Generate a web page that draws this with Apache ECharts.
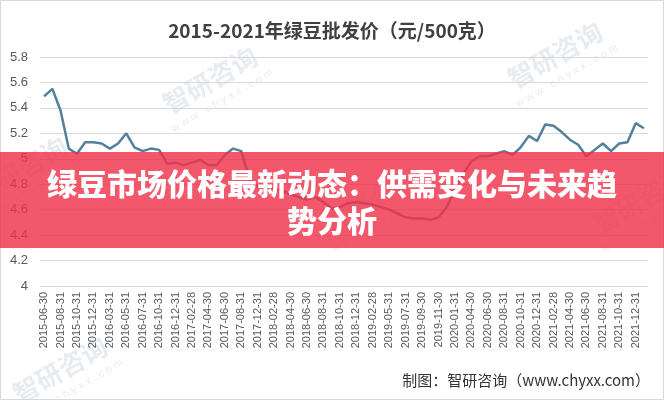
<!DOCTYPE html>
<html>
<head>
<meta charset="utf-8">
<script src="https://cdn.jsdelivr.net/npm/echarts@6/dist/echarts.min.js"></script>
<style>
html,body{margin:0;padding:0;background:#fff;}
#c{width:664px;height:400px;}
</style>
</head>
<body>
<div id="c"></div>
<script>
var titleText = '2015-2021年绿豆批发价（元/500克）';
var bannerLines = ['绿豆市场价格最新动态：供需变化与未来趋', '势分析'];
var sourceText = '制图：智研咨询（www.chyxx.com）';

var categories = [
 '2015-06-30','2015-07-31','2015-08-31','2015-09-30','2015-10-31','2015-11-30','2015-12-31','2016-01-31',
 '2016-03-31','2016-04-30','2016-05-31','2016-06-30','2016-07-31','2016-08-31','2016-10-31','2016-11-30',
 '2016-12-31','2017-01-31','2017-02-28','2017-03-31','2017-04-30','2017-05-31','2017-06-30','2017-07-31',
 '2017-08-31','2017-10-31','2017-12-31','2018-01-31','2018-02-28','2018-03-31','2018-04-30','2018-05-31',
 '2018-06-30','2018-07-31','2018-08-31','2018-09-30','2018-10-31','2018-11-30','2018-12-31','2019-01-31',
 '2019-02-28','2019-03-31','2019-05-31','2019-06-30','2019-07-31','2019-08-31','2019-09-30','2019-10-31',
 '2019-11-30','2019-12-31','2020-01-31','2020-03-31','2020-04-30','2020-05-31','2020-06-30','2020-07-31',
 '2020-08-31','2020-09-30','2020-10-31','2020-11-30','2020-12-31','2021-01-31','2021-02-28','2021-03-31',
 '2021-04-30','2021-05-31','2021-06-30','2021-07-31','2021-08-31','2021-09-30','2021-10-31','2021-11-30',
 '2021-12-31','2022-01-31'
];

var prices = [
 5.49,5.55,5.38,5.08,5.04,5.13,5.13,5.12,
 5.08,5.12,5.20,5.09,5.06,5.08,5.07,4.96,
 4.97,4.95,4.97,4.99,4.95,4.95,5.03,5.08,
 5.06,4.84,4.78,4.77,4.76,4.75,4.72,4.70,
 4.68,4.70,4.66,4.61,4.62,4.65,4.66,4.65,
 4.64,4.62,4.60,4.57,4.54,4.53,4.53,4.52,
 4.54,4.62,4.76,4.88,4.98,5.02,5.02,5.04,
 5.06,5.03,5.09,5.18,5.14,5.27,5.26,5.21,
 5.15,5.11,5.02,5.07,5.12,5.06,5.12,5.13,
 5.28,5.24
];

var yMin = 4, yMax = 5.8, yStep = 0.2;

var chart = echarts.init(document.getElementById('c'), null, {renderer:'canvas'});

function watermark(x, y) {
  return {
    type: 'group', x: x, y: y, rotation: Math.PI / 6, z: 5, silent: true,
    children: [
      {type:'text', style:{text:'智研咨询', x:0, y:0, fill:'rgba(170,185,205,0.28)', font:'bold 26px "Noto Sans CJK SC"', textAlign:'center', textVerticalAlign:'middle'}},
      {type:'text', style:{text:'w w w . c h y x x . c o m', x:0, y:24, fill:'rgba(170,185,205,0.28)', font:'11px "Liberation Sans"', textAlign:'center', textVerticalAlign:'middle'}}
    ]
  };
}

chart.setOption({
  animation: false,
  backgroundColor: '#ffffff',
  title: {
    text: titleText, left: 'center', top: 16,
    textStyle: {fontSize: 19, fontWeight: 'bold', color: '#404040', fontFamily: '"Noto Sans CJK SC"'}
  },
  grid: {left: 40, right: 16, top: 57, bottom: 114, containLabel: false},
  xAxis: {
    type: 'category', data: categories, boundaryGap: true,
    axisLine: {show: false}, axisTick: {show: false},
    axisLabel: {interval: 1, rotate: 90, fontSize: 11, color: '#595959', fontFamily: '"Liberation Sans"', margin: 6}
  },
  yAxis: {
    type: 'value', min: yMin, max: yMax, interval: yStep,
    axisLine: {show: false}, axisTick: {show: false},
    axisLabel: {fontSize: 13, color: '#595959', fontFamily: '"Liberation Sans"', margin: 12},
    splitLine: {lineStyle: {color: '#d9d9d9', width: 1}}
  },
  series: [{
    type: 'line', data: prices, showSymbol: false, symbol: 'none',
    lineStyle: {color: '#52819a', width: 2.5}, z: 3
  }],
  graphic: [
    watermark(210, 80), watermark(555, 55), watermark(60, 370), watermark(370, 200),
    watermark(640, 200), watermark(20, 170),
    {type:'rect', shape:{x:0.5, y:0.5, width:663, height:399}, style:{fill:'none', stroke:'#d9d9d9', lineWidth:1}, z:10, silent:true},
    {type:'rect', shape:{x:0, y:152, width:664, height:96}, style:{fill:'rgba(240,50,75,0.82)'}, z:20, silent:true},
    {type:'text', x:332, y:184, z:21, silent:true, style:{text:bannerLines[0], fill:'#ffffff', font:'900 30px "Noto Sans CJK SC"', textAlign:'center', textVerticalAlign:'middle'}},
    {type:'text', x:332, y:221, z:21, silent:true, style:{text:bannerLines[1], fill:'#ffffff', font:'900 30px "Noto Sans CJK SC"', textAlign:'center', textVerticalAlign:'middle'}},
    {type:'text', right:14, top:373, z:21, silent:true, style:{text:sourceText, fill:'#333333', font:'15px "Noto Sans CJK SC"'}}
  ]
});
</script>
</body>
</html>
